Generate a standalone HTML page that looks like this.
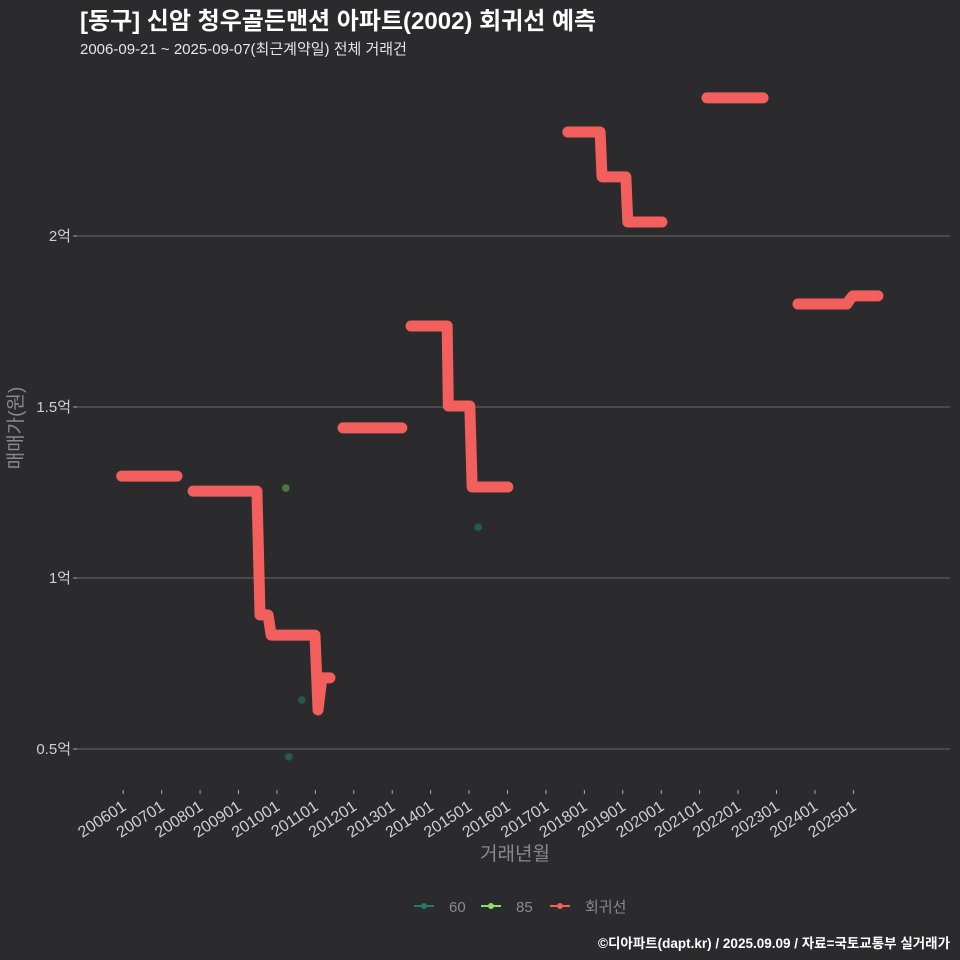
<!DOCTYPE html>
<html><head><meta charset="utf-8">
<style>
html,body{margin:0;padding:0;background:#2b2a2c;}
svg{display:block;font-family:"Liberation Sans","Noto Sans CJK KR",sans-serif;}
</style></head>
<body>
<svg id="chart" width="960" height="960" viewBox="0 0 960 960">
<rect width="960" height="960" fill="#2b2a2c"/>
<text x="80" y="29" font-size="24" font-weight="bold" fill="#ffffff">[동구] 신암 청우골든맨션 아파트(2002) 회귀선 예측</text>
<text x="80" y="54" font-size="15" fill="#e6e6e6">2006-09-21 ~ 2025-09-07(최근계약일) 전체 거래건</text>
<g id="grid"></g>
<g id="yaxis"></g>
<g id="xaxis"></g>
<g id="series"></g>
<g id="points"></g>
<text transform="translate(22,428) rotate(-90)" text-anchor="middle" font-size="19" fill="#8a8a8a">매매가(원)</text>
<text x="515" y="860" text-anchor="middle" font-size="19" fill="#8a8a8a">거래년월</text>
<g>
 <g>
  <line x1="414" y1="906" x2="434" y2="906" stroke="#1f7a70" stroke-width="2"/>
  <circle cx="424" cy="906" r="3" fill="#1f7a70"/>
  <text x="449" y="912" font-size="15" fill="#8a8a8a">60</text>
 </g>
 <g>
  <line x1="481" y1="906" x2="501" y2="906" stroke="#8fdc6a" stroke-width="2"/>
  <circle cx="491" cy="906" r="3" fill="#8fdc6a"/>
  <text x="516" y="912" font-size="15" fill="#8a8a8a">85</text>
 </g>
 <g>
  <line x1="550" y1="906" x2="570" y2="906" stroke="#f25f5c" stroke-width="2"/>
  <circle cx="560" cy="906" r="3" fill="#f25f5c"/>
  <text x="585" y="912" font-size="15" fill="#8a8a8a">회귀선</text>
 </g>
</g>
<text x="950" y="948" text-anchor="end" font-size="13.5" font-weight="bold" fill="#ffffff">©디아파트(dapt.kr) / 2025.09.09 / 자료=국토교통부 실거래가</text>
</svg>
<script>
const yTickValues = [0.5, 1, 1.5, 2];
const yTickLabels = ["0.5억", "1억", "1.5억", "2억"];
const xTickYears = [2006,2007,2008,2009,2010,2011,2012,2013,2014,2015,2016,2017,2018,2019,2020,2021,2022,2023,2024,2025];
const xTickLabels = ["200601","200701","200801","200901","201001","201101","201201","201301","201401","201501","201601","201701","201801","201901","202001","202101","202201","202301","202401","202501"];
const regSeg1 = [[2005.96,1.298],[2007.40,1.298]];
const regSeg2 = [[2007.82,1.254],[2009.48,1.254],[2009.56,0.892],[2009.77,0.892],[2009.85,0.833],[2010.99,0.833],[2011.07,0.614],[2011.17,0.708],[2011.38,0.708]];
const regSeg3 = [[2011.72,1.439],[2013.25,1.439]];
const regSeg4 = [[2013.49,1.737],[2014.43,1.737],[2014.46,1.503],[2015.02,1.503],[2015.08,1.266],[2016.01,1.266]];
const regSeg5 = [[2017.57,2.304],[2018.41,2.304],[2018.46,2.173],[2019.08,2.173],[2019.13,2.041],[2020.02,2.041]];
const regSeg6 = [[2021.19,2.404],[2022.65,2.404]];
const regSeg7 = [[2023.56,1.801],[2024.83,1.801],[2024.90,1.813],[2024.99,1.825],[2025.64,1.825]];
const pts60Dates = [2010.65, 2010.31, 2015.24];
const pts60Values = [0.643, 0.477, 1.149];
const pts85Dates = [2010.23];
const pts85Values = [1.263];

const NS = "http://www.w3.org/2000/svg";
function xs(t){ return 123.2 + (t - 2006) * 38.43; }
function ys(v){ return 578 - (v - 1) * 342; }
function mk(tag, attrs, parent){ const e=document.createElementNS(NS,tag); for(const k in attrs) e.setAttribute(k,attrs[k]); parent.appendChild(e); return e; }

const grid=document.getElementById('grid'), yaxis=document.getElementById('yaxis'), xaxis=document.getElementById('xaxis');
yTickValues.forEach((v,i)=>{
  const l=mk('line',{x1:76,x2:950,y1:ys(v),y2:ys(v),stroke:'#5c5b5d','stroke-width':1.2},grid);
  
  
  const tk=mk('line',{x1:73,x2:77,y1:ys(v),y2:ys(v),stroke:'#aaa','stroke-width':1},yaxis);
  
  
  const t=mk('text',{x:71,y:ys(v)+5,'text-anchor':'end','font-size':15,fill:'#d0d0d0'},yaxis);
  t.textContent=yTickLabels[i];
  
  
});
xTickYears.forEach((yr,i)=>{
  const x=xs(yr);
  const tk=mk('line',{x1:x,x2:x,y1:790,y2:794,stroke:'#aaa','stroke-width':1},xaxis);
  
  
  const t=mk('text',{x:0,y:0,'text-anchor':'end','font-size':16,fill:'#d0d0d0',transform:`translate(${x+4},${809}) rotate(-33)`},xaxis);
  t.textContent=xTickLabels[i];
  
  
});
const series=document.getElementById('series');
[regSeg1,regSeg2,regSeg3,regSeg4,regSeg5,regSeg6,regSeg7].forEach(seg=>{
  const p=mk('polyline',{points:seg.map(d=>xs(d[0])+','+ys(d[1])).join(' '),fill:'none',stroke:'#f25f5c','stroke-width':11,'stroke-linecap':'round','stroke-linejoin':'round'},series);
  
  
});
const points=document.getElementById('points');
pts60Dates.forEach((d,i)=>{
  const c=mk('circle',{cx:xs(d),cy:ys(pts60Values[i]),r:3.8,fill:'#1f7a70','fill-opacity':0.6},points);
  
  
});
pts85Dates.forEach((d,i)=>{
  const c=mk('circle',{cx:xs(d),cy:ys(pts85Values[i]),r:3.8,fill:'#5a9a4a','fill-opacity':0.7},points);
  
  
});
</script>
</body></html>
